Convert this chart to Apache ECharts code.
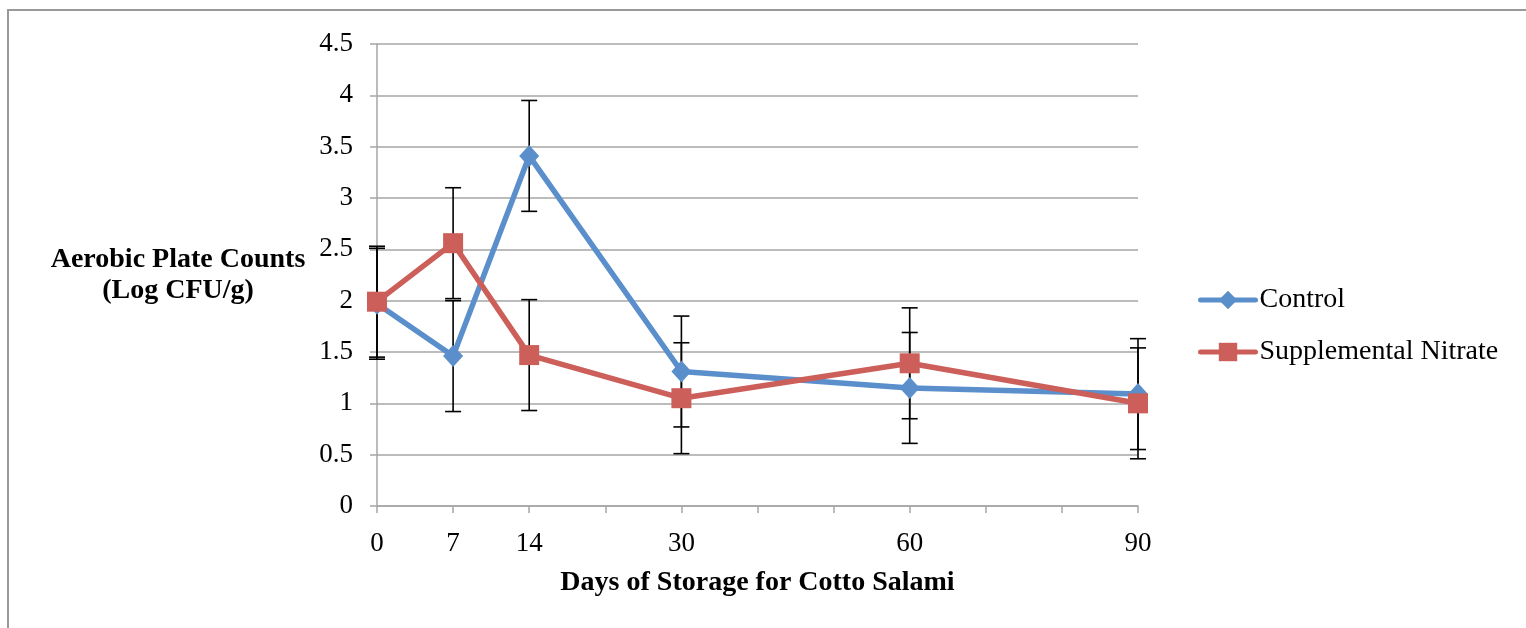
<!DOCTYPE html>
<html lang="en">
<head>
  <meta charset="UTF-8">
  <title>Aerobic Plate Counts - Cotto Salami</title>
  <script src="https://cdn.jsdelivr.net/npm/echarts@6/dist/echarts.min.js"></script>
  <style>
    html, body { margin: 0; padding: 0; background: #fff; }
  </style>
</head>
<body>
  <div id="container" style="width: 1526px;height:628px;"></div>
  <script>
    // days on the axis, blank slots keep the Excel-like spacing
    var days = ['0', '7', '14', '', '30', '', '', '60', '', '', '90'];
    var control = [1.97, 1.46, 3.41, null, 1.31, null, null, 1.15, null, null, 1.09];
    var nitrate = [1.99, 2.56, 1.47, null, 1.05, null, null, 1.39, null, null, 1.00];
    var controlErr = [0.54, 0.54, 0.54, null, 0.54, null, null, 0.54, null, null, 0.54];
    var nitrateErr = [0.54, 0.54, 0.54, null, 0.54, null, null, 0.54, null, null, 0.54];

    var font = 'Liberation Serif';
    var gridColor = '#a6a6a6';

    // [index, low, high] for the error bars
    function errData(vals, errs) {
      var out = [];
      vals.forEach(function (v, i) {
        if (v != null) out.push([i, v - errs[i], v + errs[i]]);
      });
      return out;
    }

    function renderErr(params, api) {
      var lo = api.coord([api.value(0), api.value(1)]);
      var hi = api.coord([api.value(0), api.value(2)]);
      var w = 8;
      var style = { stroke: '#000', lineWidth: 1.6 };
      return {
        type: 'group',
        children: [
          { type: 'line', shape: { x1: lo[0], y1: lo[1], x2: hi[0], y2: hi[1] }, style: style },
          { type: 'line', shape: { x1: hi[0] - w, y1: hi[1], x2: hi[0] + w, y2: hi[1] }, style: style },
          { type: 'line', shape: { x1: lo[0] - w, y1: lo[1], x2: lo[0] + w, y2: lo[1] }, style: style }
        ]
      };
    }

    var myChart = echarts.init(document.getElementById('container'));
    myChart.setOption({
      backgroundColor: '#fff',
      animation: false,
      graphic: [{
        type: 'rect',
        shape: { x: 8, y: 10, width: 1700, height: 800 },
        style: { fill: 'none', stroke: '#999', lineWidth: 2 },
        silent: true
      }],
      grid: { left: 377, right: 388, top: 44, bottom: 122 },
      legend: {
        orient: 'vertical',
        left: 1193,
        top: 281,
        itemWidth: 55,
        itemHeight: 23,
        itemGap: 24,
        lineStyle: { width: 5, cap: 'round' },
        textStyle: { fontFamily: font, fontSize: 28, color: '#000', lineHeight: 20, padding: [0, 0, 0, -1] },
        data: ['Control', 'Supplemental Nitrate']
      },
      xAxis: {
        type: 'category',
        data: days,
        boundaryGap: false,
        name: 'Days of Storage for Cotto Salami',
        nameLocation: 'middle',
        nameGap: 63,
        nameTextStyle: { fontFamily: font, fontSize: 28, fontWeight: 'bold', color: '#000' },
        axisLine: { lineStyle: { color: gridColor, width: 1.5 } },
        axisTick: { show: true, interval: 0, length: 7, lineStyle: { color: gridColor, width: 1.5 } },
        axisLabel: { interval: 0, margin: 24, fontFamily: font, fontSize: 27, color: '#000' }
      },
      yAxis: {
        type: 'value',
        min: 0,
        max: 4.5,
        interval: 0.5,
        name: 'Aerobic Plate Counts\n(Log CFU/g)',
        nameLocation: 'middle',
        nameRotate: 0,
        nameGap: 199,
        nameTextStyle: { fontFamily: font, fontSize: 28, fontWeight: 'bold', color: '#000', lineHeight: 31, align: 'center' },
        axisLine: { show: true, lineStyle: { color: gridColor, width: 1.5 } },
        axisTick: { show: true, length: 7, lineStyle: { color: gridColor, width: 1.5 } },
        splitLine: { lineStyle: { color: gridColor, width: 1.5 } },
        axisLabel: { margin: 24, fontFamily: font, fontSize: 27, color: '#000' }
      },
      series: [
        {
          type: 'custom',
          name: 'controlErr',
          renderItem: renderErr,
          data: errData(control, controlErr),
          z: 1,
          silent: true
        },
        {
          type: 'custom',
          name: 'nitrateErr',
          renderItem: renderErr,
          data: errData(nitrate, nitrateErr),
          z: 1,
          silent: true
        },
        {
          type: 'line',
          name: 'Control',
          data: control,
          connectNulls: true,
          symbol: 'diamond',
          symbolSize: [20, 22],
          color: '#5a8fcc',
          lineStyle: { width: 5.5 },
          z: 3
        },
        {
          type: 'line',
          name: 'Supplemental Nitrate',
          data: nitrate,
          connectNulls: true,
          symbol: 'rect',
          symbolSize: 20,
          color: '#cd5f5a',
          lineStyle: { width: 5.5 },
          z: 4
        }
      ]
    });
  </script>
</body>
</html>
